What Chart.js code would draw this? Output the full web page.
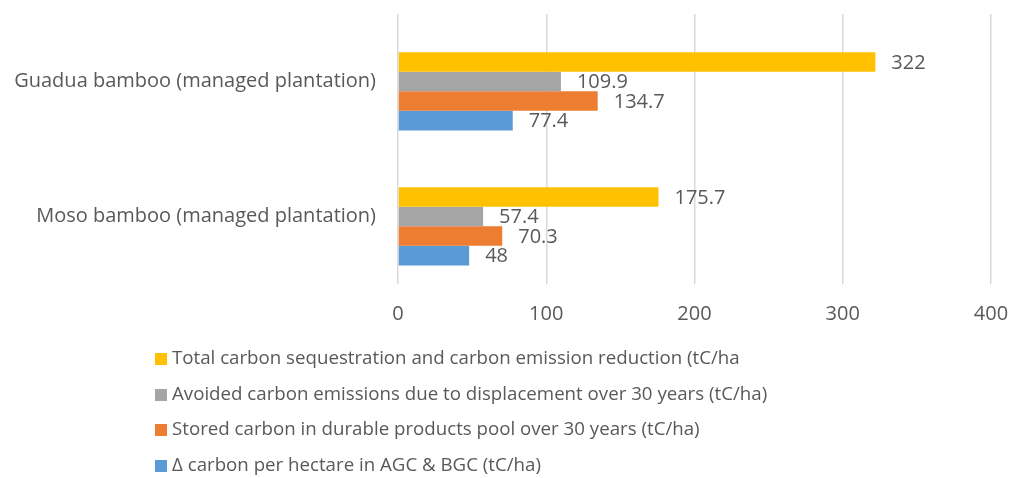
<!DOCTYPE html>
<html>
<head>
<meta charset="utf-8">
<script src="https://cdn.jsdelivr.net/npm/chart.js@4.4.1/dist/chart.umd.min.js"></script>
<style>
    html, body { margin: 0; padding: 0; background: #fff; }
    body { position: relative; width: 1013px; height: 478px; overflow: hidden; font-family: "Open Sans", sans-serif; }
    #wrap { position: absolute; left: 0; top: 0; width: 1013px; height: 344px; }
    #legend { position: absolute; left: 0; top: 339px; list-style: none; margin: 0; padding: 0 0 0 155px; }
    #legend li { height: 35.5px; line-height: 35.5px; font-size: 18.7px; color: #595959; white-space: nowrap; }
    #legend .box { display: inline-block; width: 12px; height: 12px; margin-right: 5px; vertical-align: -1px; }
</style>
</head>
<body>
<div id="wrap"><canvas id="chart"></canvas></div>
<ul id="legend"></ul>
<script>
const categories = ['Guadua bamboo (managed plantation)', 'Moso bamboo (managed plantation)'];
const seriesNames = [
    'Total carbon sequestration and carbon emission reduction (tC/ha',
    'Avoided carbon emissions due to displacement over 30 years (tC/ha)',
    'Stored carbon in durable products pool over 30 years (tC/ha)',
    '\u0394 carbon per hectare in AGC & BGC (tC/ha)'
];
const totalValues = [322, 175.7];
const avoidedValues = [109.9, 57.4];
const storedValues = [134.7, 70.3];
const deltaValues = [77.4, 48];
const seriesColors = ['#FFC000', '#A5A5A5', '#ED7D31', '#5B9BD5'];
const xTicks = [0, 100, 200, 300, 400];

const textColor = '#595959';
const font = '"Open Sans", sans-serif';

const valueLabels = {
    id: 'valueLabels',
    afterDatasetsDraw(chart) {
        const ctx = chart.ctx;
        ctx.save();
        ctx.font = `20px ${font}`;
        ctx.fillStyle = textColor;
        ctx.textAlign = 'left';
        ctx.textBaseline = 'middle';
        chart.data.datasets.forEach((ds, i) => {
            if (ds.data.every(v => v === null)) return;
            chart.getDatasetMeta(i).data.forEach((bar, j) => {
                ctx.fillText(String(ds.data[j]), bar.x + 16, bar.y + 1);
            });
        });
        ctx.restore();
    }
};

const allValues = [totalValues, avoidedValues, storedValues, deltaValues];
const datasets = allValues.map((vals, i) => ({
    label: seriesNames[i],
    data: vals,
    backgroundColor: seriesColors[i],
    borderWidth: 0
}));
// empty slot at top of each group, as in the original
datasets.unshift({ label: '', data: categories.map(() => null), backgroundColor: 'rgba(0,0,0,0)' });

const chart = new Chart(document.getElementById('chart'), {
    type: 'bar',
    data: { labels: categories, datasets },
    options: {
        indexAxis: 'y',
        responsive: true,
        maintainAspectRatio: false,
        animation: false,
        datasets: { bar: { categoryPercentage: 0.725, barPercentage: 1 } },
        layout: { padding: 0 },
        plugins: { legend: { display: false }, tooltip: { enabled: false } },
        scales: {
            x: {
                min: 0,
                max: 400,
                afterBuildTicks: (scale) => { scale.ticks = xTicks.map(v => ({ value: v })); },
                afterFit: (scale) => { scale.paddingRight = 22; },
                grid: { color: '#D9D9D9', lineWidth: 1.5, drawTicks: false },
                border: { display: false },
                ticks: { color: textColor, font: { family: font, size: 20 }, padding: 18 }
            },
            y: {
                afterFit: (scale) => { scale.width = 398; scale.paddingTop = 14; },
                grid: { display: false },
                border: { display: false },
                ticks: { color: textColor, font: { family: font, size: 20 }, padding: 14 }
            }
        }
    },
    plugins: [valueLabels]
});

document.getElementById('legend').innerHTML = seriesNames.map((name, i) =>
    `<li><span class="box" style="background:${seriesColors[i]}"></span>${name}</li>`
).join('');
</script>
</body>
</html>
